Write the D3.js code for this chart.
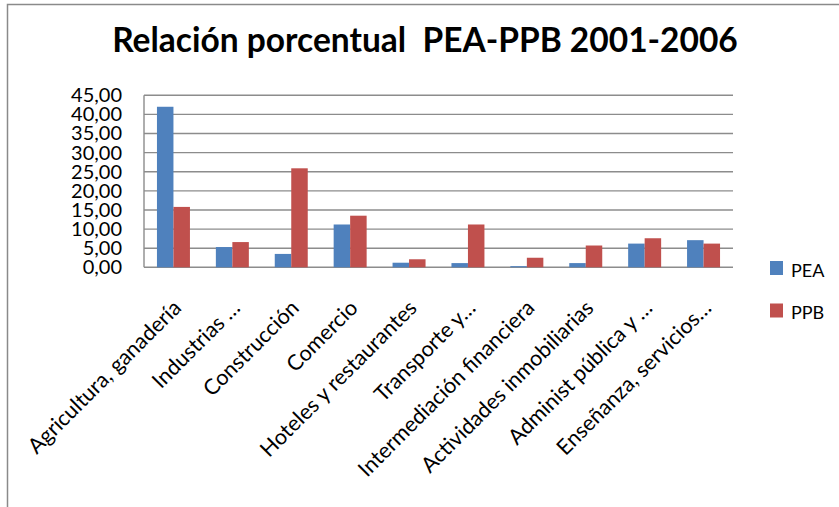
<!DOCTYPE html>
<html>
<head>
<meta charset="utf-8">
<script src="https://cdn.jsdelivr.net/npm/d3@7"></script>
<style>
  body { margin: 0; background: #fff; }
  text { font-family: Lato, "Open Sans", sans-serif; fill: #000; }
</style>
</head>
<body>
<div id="chart"></div>
<script>
var categories = ["Agricultura, ganadería", "Industrias …", "Construcción", "Comercio",
  "Hoteles y restaurantes", "Transporte y…", "Intermediación financiera",
  "Actividades inmobiliarias", "Administ pública y …", "Enseñanza, servicios…"];
var series = ["PEA", "PPB"];
var pea = [42.0, 5.3, 3.5, 11.2, 1.2, 1.1, 0.3, 1.1, 6.2, 7.1];
var ppb = [15.8, 6.6, 25.9, 13.5, 2.1, 11.2, 2.5, 5.7, 7.6, 6.2];
var yTicks = [0, 5, 10, 15, 20, 25, 30, 35, 40, 45];
var colors = ["#4F81BD", "#C0504D"];

var fullWidth = 839, fullHeight = 507;
var margin = {top: 95.3, right: 106, bottom: 239.7, left: 144};
var width = fullWidth - margin.left - margin.right;
var height = fullHeight - margin.top - margin.bottom;

var svg = d3.select("#chart").append("svg")
    .attr("width", fullWidth)
    .attr("height", fullHeight);

// outer chart border (cut off at right/bottom)
svg.append("rect")
    .attr("x", 7.5).attr("y", 4.5)
    .attr("width", 900).attr("height", 600)
    .attr("fill", "none")
    .attr("stroke", "#8a8a8a")
    .attr("stroke-width", 1.5);

svg.append("text")
    .attr("x", 425).attr("y", 52)
    .attr("text-anchor", "middle")
    .style("font-size", "33.5px")
    .style("font-weight", "bold")
    .style("white-space", "pre")
    .text("Relación porcentual  PEA-PPB 2001-2006");

var g = svg.append("g")
    .attr("transform", "translate(" + margin.left + "," + margin.top + ")");

var x0 = d3.scaleBand()
    .domain(categories)
    .range([0, width])
    .paddingInner(0.44)
    .paddingOuter(0.22);

var x1 = d3.scaleBand()
    .domain(series)
    .range([0, x0.bandwidth()]);

var y = d3.scaleLinear()
    .domain([0, 45])
    .range([height, 0]);

var locale = d3.formatLocale({decimal: ",", thousands: ".", grouping: [3], currency: ["", ""]});
var fmt = locale.format(".2f");

// gridlines
g.selectAll(".grid")
    .data(yTicks)
    .enter().append("line")
    .attr("class", "grid")
    .attr("x1", 0).attr("x2", width)
    .attr("y1", function(d) { return y(d); })
    .attr("y2", function(d) { return y(d); })
    .attr("stroke", "#8c8c8c")
    .attr("stroke-width", 1.4);

g.append("line")
    .attr("x1", 0).attr("x2", 0)
    .attr("y1", 0).attr("y2", height)
    .attr("stroke", "#8c8c8c")
    .attr("stroke-width", 1.4);

var yAxis = g.append("g")
    .call(d3.axisLeft(y).tickValues(yTicks).tickFormat(fmt).tickSize(0).tickPadding(22));
yAxis.select(".domain").remove();
yAxis.selectAll("text")
    .style("font-family", "Lato, sans-serif")
    .style("font-size", "20px")
    .attr("fill", "#000");

var groups = g.selectAll(".cat")
    .data(categories)
    .enter().append("g")
    .attr("class", "cat")
    .attr("transform", function(d) { return "translate(" + x0(d) + ",0)"; });

groups.selectAll("rect")
    .data(function(d, i) { return [pea[i], ppb[i]].map(function(v, k) { return {key: series[k], value: v}; }); })
    .enter().append("rect")
    .attr("x", function(d) { return x1(d.key); })
    .attr("y", function(d) { return y(d.value); })
    .attr("width", x1.bandwidth())
    .attr("height", function(d) { return height - y(d.value); })
    .attr("fill", function(d, k) { return colors[k]; });

// category labels at 45 degrees
g.selectAll(".cat-label")
    .data(categories)
    .enter().append("text")
    .attr("class", "cat-label")
    .attr("text-anchor", "end")
    .attr("transform", function(d) {
      var cx = x0(d) + x0.bandwidth() / 2 + 9;
      return "translate(" + cx + "," + (height + 42) + ") rotate(-45)";
    })
    .style("font-size", "21.5px")
    .text(function(d) { return d; });

// legend
var legend = svg.selectAll(".legend")
    .data(series)
    .enter().append("g")
    .attr("class", "legend")
    .attr("transform", function(d, i) { return "translate(770," + (261 + i * 42.5) + ")"; });

legend.append("rect")
    .attr("width", 13).attr("height", 14)
    .attr("fill", function(d, i) { return colors[i]; });

legend.append("text")
    .attr("x", 21).attr("y", 15.5)
    .style("font-size", "18px")
    .text(function(d) { return d; });
</script>
</body>
</html>
